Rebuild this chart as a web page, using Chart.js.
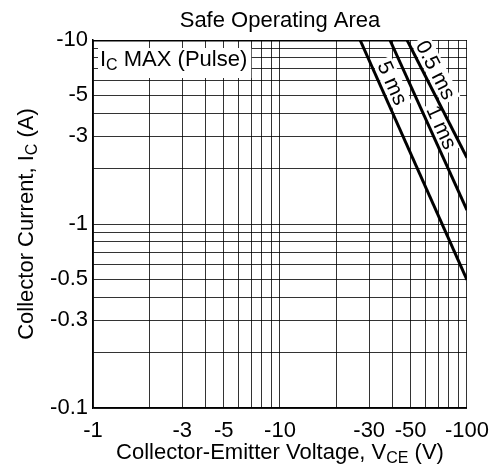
<!DOCTYPE html>
<html><head><meta charset="utf-8">
<script src="https://cdn.jsdelivr.net/npm/chart.js@4.4.0/dist/chart.umd.min.js"></script>
<style>html,body{margin:0;padding:0;background:#fff}#wrap{width:501px;height:470px;position:relative}</style>
</head><body><div id="wrap"><canvas id="c" width="501" height="470"></canvas></div>
<script>
// ---- data ----
const xGrid = [1,2,3,4,5,6,7,8,9,10,20,30,40,50,60,70,80,90,100];
const xLabels = [1,3,5,10,30,50,100];
const yGrid = [0.1,0.2,0.3,0.4,0.5,0.6,0.7,0.8,0.9,1,2,3,4,5,6,7,8,9,10];
const yLabels = [0.1,0.3,0.5,1,3,5,10];
const icMaxPulse = [{x:1,y:10},{x:47.8,y:10}];
const soa5ms = [{x:26.8,y:10},{x:100,y:0.497}];
const soa1ms = [{x:38.7,y:10},{x:100,y:1.19}];
const soa05ms = [{x:47.8,y:10},{x:100,y:2.29}];

const FONT = "'Liberation Sans', Arial, Helvetica, sans-serif";
const FS = 22;

function near(v, arr){ return arr.some(a => Math.abs(a - v) / a < 1e-6); }

function richWidth(ctx, parts, fs){
  let w = 0;
  for (const p of parts){
    ctx.font = (p.sub ? Math.round(fs*0.72) : fs) + 'px ' + FONT;
    w += ctx.measureText(p.t).width;
  }
  return w;
}
function drawRich(ctx, parts, x, y, fs){
  const w = richWidth(ctx, parts, fs);
  let cx = x - w/2;
  ctx.textBaseline = 'alphabetic';
  ctx.textAlign = 'left';
  for (const p of parts){
    ctx.font = (p.sub ? Math.round(fs*0.72) : fs) + 'px ' + FONT;
    ctx.fillText(p.t, cx, y + (p.sub ? 4 : 0));
    cx += ctx.measureText(p.t).width;
  }
  return w;
}

const labelsPlugin = {
  id: 'soaLabels',
  beforeDatasetsDraw(chart){
    const ctx = chart.ctx;
    const xs = chart.scales.x, ys = chart.scales.y;
    ctx.save();
    // IC MAX (Pulse) label with white box
    const parts = [{t:'I'},{t:'C',sub:true},{t:' MAX (Pulse)'}];
    const w = richWidth(ctx, parts, 22);
    const left = xs.left + 5;
    ctx.fillStyle = '#fff';
    ctx.fillRect(left, ys.top + 8, w + 6, 30);
    ctx.fillStyle = '#000';
    drawRich(ctx, parts, left + 2 + w/2, ys.top + 26, 22);
    // rotated labels on the lines
    const defs = [[soa5ms,'5 ms',0.2,12],[soa1ms,'1 ms',0.54,11],[soa05ms,'0.5 ms',0.3,12]];
    ctx.font = '21px ' + FONT;
    for (const [d, txt, t, off] of defs){
      const x1 = xs.getPixelForValue(d[0].x), y1 = ys.getPixelForValue(d[0].y);
      const x2 = xs.getPixelForValue(d[1].x), y2 = ys.getPixelForValue(d[1].y);
      const dx = x2-x1, dy = y2-y1, L = Math.hypot(dx,dy);
      const nx = dy/L, ny = -dx/L;
      const cx = x1 + dx*t + nx*off, cy = y1 + dy*t + ny*off;
      const ang = Math.atan2(dy, dx);
      ctx.save();
      ctx.translate(cx, cy);
      ctx.rotate(ang);
      const tw = ctx.measureText(txt).width;
      ctx.fillStyle = '#fff';
      ctx.fillRect(-tw/2 - 3, -10, tw + 6, 20);
      ctx.fillStyle = '#000';
      ctx.textAlign = 'center';
      ctx.textBaseline = 'middle';
      ctx.fillText(txt, 0, 1);
      ctx.restore();
    }
    ctx.restore();
  },
  afterDraw(chart){
    const ctx = chart.ctx;
    const xs = chart.scales.x, ys = chart.scales.y;
    ctx.save();
    ctx.fillStyle = '#000';
    ctx.font = FS + 'px ' + FONT;
    ctx.textAlign = 'center';
    ctx.textBaseline = 'alphabetic';
    ctx.fillText('Safe Operating Area', (xs.left + xs.right)/2, 27);
    drawRich(ctx, [{t:'Collector-Emitter Voltage, V'},{t:'CE',sub:true},{t:' (V)'}], (xs.left + xs.right)/2, 459, FS);
    ctx.translate(33, (ys.top + ys.bottom)/2);
    ctx.rotate(-Math.PI/2);
    drawRich(ctx, [{t:'Collector Current, I'},{t:'C',sub:true},{t:' (A)'}], 0, 0, FS);
    ctx.restore();
  }
};

const lineDs = (data) => ({data, showLine:true, borderColor:'#000', borderWidth:3, pointRadius:0, fill:false, tension:0, borderCapStyle:'butt'});

new Chart(document.getElementById('c'), {
  type: 'scatter',
  data: { datasets: [lineDs(icMaxPulse), lineDs(soa5ms), lineDs(soa1ms), lineDs(soa05ms)] },
  options: {
    responsive: false,
    animation: false,
    layout: { padding: { left: 0, right: 34, top: 40, bottom: 0 } },
    plugins: { legend: {display:false}, title: {display:false}, tooltip: {enabled:false} },
    scales: {
      x: {
        type: 'logarithmic', min: 1, max: 100,
        afterBuildTicks: s => { s.ticks = xGrid.map(v => ({value:v})); },
        afterFit: s => { s.height = 62; },
        ticks: { autoSkip:false, maxRotation:0, padding:12, color:'#000', font:{family:FONT, size:FS, lineHeight:1},
          callback: v => near(v, xLabels) ? '-' + v : '' },
        grid: { color:'rgba(0,0,0,0.8)', lineWidth:1, drawTicks:false },
        border: { display:true, color:'#000', width:1.5 }
      },
      y: {
        type: 'logarithmic', min: 0.1, max: 10,
        afterBuildTicks: s => { s.ticks = yGrid.map(v => ({value:v})); },
        afterFit: s => { s.width = 93; },
        ticks: { autoSkip:false, padding:5, color:'#000', font:{family:FONT, size:FS},
          callback: v => near(v, yLabels) ? '-' + v : '' },
        grid: { color:'rgba(0,0,0,0.8)', lineWidth:1, drawTicks:false },
        border: { display:true, color:'#000', width:1.5 }
      }
    }
  },
  plugins: [labelsPlugin]
});
</script>
</body></html>
